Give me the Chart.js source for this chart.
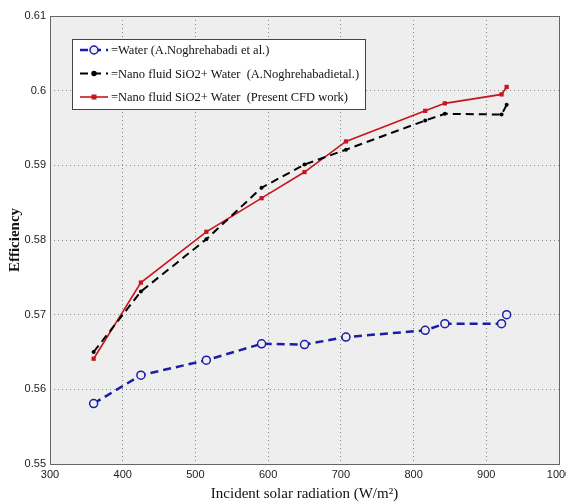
<!DOCTYPE html>
<html>
<head>
<meta charset="utf-8">
<script src="https://cdn.jsdelivr.net/npm/chart.js@4.4.1/dist/chart.umd.min.js"></script>
<style>
  html, body { margin: 0; padding: 0; background: #fff; }
  #wrap { width: 566px; height: 503px; }
</style>
</head>
<body>
<div id="wrap"><canvas id="effChart"></canvas></div>
<script>
// radiation values (W/m2)
const radiation = [360, 425, 515, 591, 650, 707, 816, 843, 921, 928];
const waterEff = [0.5581, 0.5619, 0.5639, 0.5661, 0.5660, 0.5670, 0.5679, 0.5688, 0.5688, 0.5700];
const nanoRefEff = [0.5650, 0.5731, 0.5801, 0.5870, 0.5901, 0.5921, 0.5960, 0.5969, 0.5968, 0.5981];
const nanoCfdEff = [0.5641, 0.5743, 0.5811, 0.5856, 0.5891, 0.5932, 0.5973, 0.5983, 0.5995, 0.6005];
const seriesLabels = [
    '=Water (A.Noghrehabadi et al.)',
    '=Nano fluid SiO2+ Water  (A.Noghrehabadietal.)',
    '=Nano fluid SiO2+ Water  (Present CFD work)'
];
const xTicks = [300, 400, 500, 600, 700, 800, 900, 1000];
const yTicks = [0.55, 0.56, 0.57, 0.58, 0.59, 0.6, 0.61];

function toPoints(ys) {
    return ys.map((y, i) => ({ x: radiation[i], y: y }));
}

//grey plot area and the box around it
const plotBackground = {
    id: 'plotBackground',
    beforeDraw(chart) {
        const { ctx, chartArea: a } = chart;
        ctx.save();
        ctx.fillStyle = '#eeeeee';
        ctx.fillRect(a.left, a.top, a.right - a.left, a.bottom - a.top);
        ctx.restore();
    },
    afterDatasetsDraw(chart) {
        const { ctx, chartArea: a } = chart;
        ctx.save();
        ctx.strokeStyle = '#666';
        ctx.lineWidth = 1;
        ctx.strokeRect(a.left + 0.5, a.top + 0.5, a.right - a.left, a.bottom - a.top);
        ctx.restore();
    }
};

//legend box drawn inside the plot, matlab style
const boxLegend = {
    id: 'boxLegend',
    afterDraw(chart) {
        const ctx = chart.ctx;
        const bx = 72, by = 39, bw = 293, bh = 70;
        ctx.save();
        ctx.fillStyle = '#fff';
        ctx.fillRect(bx, by, bw, bh);
        ctx.strokeStyle = '#444';
        ctx.lineWidth = 1;
        ctx.strokeRect(bx + 0.5, by + 0.5, bw, bh);
        ctx.font = '12.5px "Liberation Serif", "DejaVu Serif", serif';
        ctx.textBaseline = 'middle';
        chart.data.datasets.forEach((ds, i) => {
            const y = by + 11 + i * 23.5;
            ctx.strokeStyle = ds.borderColor;
            ctx.lineWidth = ds.borderWidth;
            ctx.setLineDash(ds.borderDash || []);
            ctx.beginPath();
            ctx.moveTo(bx + 8, y);
            ctx.lineTo(bx + 36, y);
            ctx.stroke();
            ctx.setLineDash([]);
            const mx = bx + 22;
            ctx.lineWidth = 1.5;
            ctx.fillStyle = ds.pointBackgroundColor;
            ctx.strokeStyle = ds.pointBorderColor;
            if (ds.pointStyle === 'rect') {
                ctx.fillRect(mx - 2.5, y - 2.5, 5, 5);
            } else {
                ctx.beginPath();
                ctx.arc(mx, y, ds.pointRadius, 0, Math.PI * 2);
                ctx.fill();
                ctx.stroke();
            }
            ctx.fillStyle = '#111';
            ctx.fillText(ds.label, bx + 39, y + 1);
        });
        ctx.restore();
    }
};

const ctx = document.getElementById('effChart').getContext('2d');
new Chart(ctx, {
    type: 'line',
    data: {
        datasets: [{
            label: seriesLabels[0],
            data: toPoints(waterEff),
            borderColor: '#1c1ca6',
            borderWidth: 2.5,
            borderDash: [8, 5],
            pointStyle: 'circle',
            pointRadius: 4,
            pointBorderWidth: 1.5,
            pointBorderColor: '#1c1ca6',
            pointBackgroundColor: 'rgba(238,238,238,1)'
        }, {
            label: seriesLabels[1],
            data: toPoints(nanoRefEff),
            borderColor: '#000',
            borderWidth: 2,
            borderDash: [8, 5],
            pointStyle: 'circle',
            pointRadius: 2,
            pointBorderWidth: 0,
            pointBorderColor: '#000',
            pointBackgroundColor: '#000'
        }, {
            label: seriesLabels[2],
            data: toPoints(nanoCfdEff),
            borderColor: '#c8141c',
            borderWidth: 1.6,
            pointStyle: 'rect',
            pointRadius: 3,
            pointBorderWidth: 0,
            pointBorderColor: '#c8141c',
            pointBackgroundColor: '#c8141c'
        }]
    },
    options: {
        responsive: true,
        maintainAspectRatio: false,
        animation: false,
        layout: { padding: { top: 16, right: 7, left: 0, bottom: 0 } },
        plugins: {
            legend: { display: false },
            tooltip: { enabled: false }
        },
        scales: {
            x: {
                type: 'linear',
                min: 300,
                max: 1000,
                afterBuildTicks(axis) {
                    axis.ticks = xTicks.map(v => ({ value: v }));
                },
                afterFit(axis) {
                    axis.height = 39;
                    //let the last label hang off the edge like the original
                    axis.paddingRight = 0;
                },
                grid: {
                    color: '#888',
                    lineWidth: 1,
                    drawTicks: false
                },
                border: { display: false, dash: [1, 3] },
                ticks: {
                    color: '#222',
                    padding: 4,
                    maxRotation: 0,
                    callback: v => String(v),
                    font: { family: '"Liberation Sans", Arial, sans-serif', size: 11 }
                },
                title: {
                    display: true,
                    text: 'Incident solar radiation (W/m\u00b2)',
                    color: '#111',
                    padding: { top: 2, bottom: 0 },
                    font: { family: '"Liberation Serif", serif', size: 15 }
                }
            },
            y: {
                min: 0.55,
                max: 0.61,
                afterBuildTicks(axis) {
                    axis.ticks = yTicks.map(v => ({ value: v }));
                },
                afterFit(axis) { axis.width = 50; },
                grid: {
                    color: '#888',
                    lineWidth: 1,
                    drawTicks: false
                },
                border: { display: false, dash: [1, 3] },
                ticks: {
                    color: '#222',
                    padding: 4,
                    callback: v => String(+v.toFixed(2)),
                    font: { family: '"Liberation Sans", Arial, sans-serif', size: 11 }
                },
                title: {
                    display: true,
                    text: 'Efficiency',
                    color: '#111',
                    padding: { top: 6, bottom: 2 },
                    font: { family: '"Liberation Serif", serif', size: 15, weight: 'bold' }
                }
            }
        }
    },
    plugins: [plotBackground, boxLegend]
});
</script>
</body>
</html>
